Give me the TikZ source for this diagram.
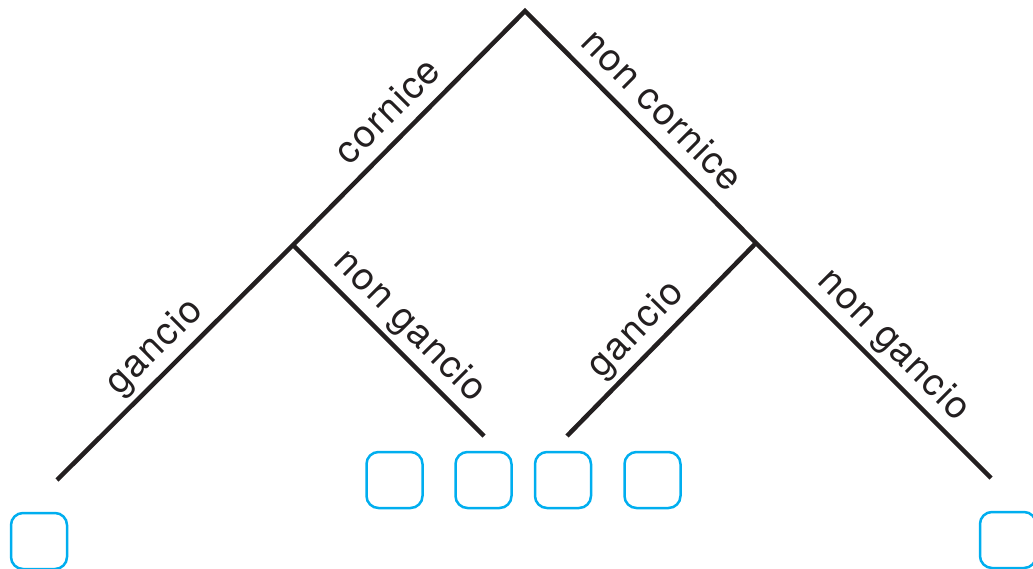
\documentclass[tikz,border=0pt]{standalone}
\usepackage{fontspec}
\setmainfont{TeX Gyre Heros}[LetterSpace=4]
\definecolor{ink}{HTML}{231F20}
\definecolor{cyanbox}{HTML}{00AEEF}
\begin{document}
\begin{tikzpicture}[x=1pt,y=1pt,
  branch/.style={draw=ink, line width=4.5pt, line cap=butt},
  lbl/.style={sloped, anchor=base, yshift=15pt, text=ink, font=\fontsize{38}{42}\selectfont, inner sep=0pt},
  leaf/.style={draw=cyanbox, line width=2.5pt, rounded corners=12pt, minimum width=56pt, minimum height=56pt, inner sep=0pt}]
\useasboundingbox (0,0) rectangle (1033,568);
\coordinate (T) at (525,557);
\coordinate (L) at (293,323);
\coordinate (R) at (756,325);
\coordinate (LL) at (57,88);
\coordinate (LR) at (484,132);
\coordinate (RL) at (567,132);
\coordinate (RR) at (991,90);
\draw[branch] (LL) -- (L) -- (T) -- (R) -- (RR);
\draw[branch] (L) -- (LR);
\draw[branch] (RL) -- (R);
\path (L) -- (T) node[lbl, pos=0.49] (t1) {cornice};
\path (T) -- (R) node[lbl, pos=0.51] (t2) {non cornice};
\path (LL) -- (L) node[lbl, pos=0.49] (t3) {gancio};
\path (L) -- (LR) node[lbl, pos=0.52] (t4) {non gancio};
\path (RL) -- (R) node[lbl, pos=0.46] (t5) {gancio};
\path (R) -- (RR) node[lbl, pos=0.51] (t6) {non gancio};
\node[leaf] (b1) at (39,27) {};
\node[leaf] (b2) at (394.5,88) {};
\node[leaf] (b3) at (483.5,88) {};
\node[leaf] (b4) at (563,88) {};
\node[leaf] (b5) at (652.5,88) {};
\node[leaf] (b6) at (1008,28) {};
\end{tikzpicture}
\end{document}
